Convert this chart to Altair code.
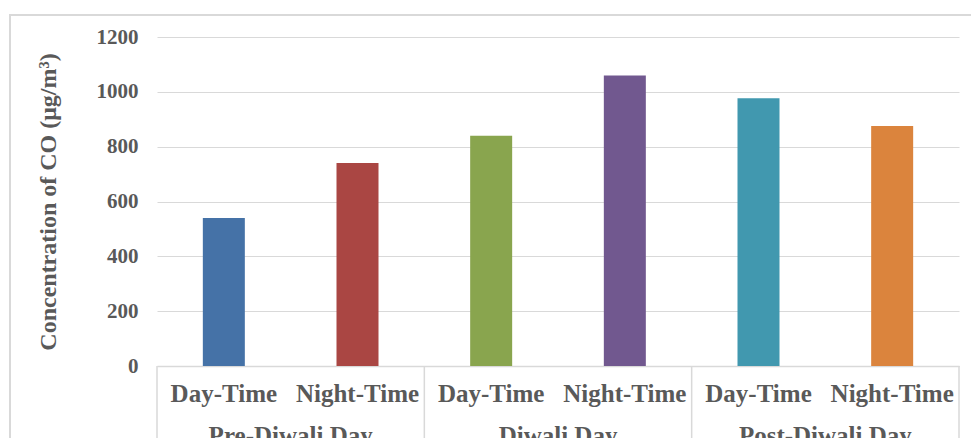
import altair as alt
import pandas as pd

periods = ["Pre-Diwali Day", "Diwali Day", "Post-Diwali Day"]
times = ["Day-Time", "Night-Time"]
values = [540, 740, 840, 1060, 977, 875]
colors = ["#4572A7", "#AA4643", "#89A54E", "#71588F", "#4198AF", "#DB843D"]
y_ticks = [0, 200, 400, 600, 800, 1000, 1200]

FONT = "Liberation Serif"
GRAY = "#595959"
LINE = "#d9d9d9"

rows = []
for i, v in enumerate(values):
    rows.append({
        "pos": i + 0.5,
        "period": periods[i // 2],
        "time": times[i % 2],
        "value": v,
        "key": f"{i}",
    })
df = pd.DataFrame(rows)

grp = pd.DataFrame({"pos": [2 * j + 1 for j in range(len(periods))], "period": periods})
seps = pd.DataFrame({"pos": [0, 2, 4, 6]})

xscale = alt.Scale(domain=[0, 6], nice=False, zero=False, padding=0)
yscale = alt.Scale(domain=[0, 1200], nice=False)

W, H = 802, 329

border = alt.Chart(pd.DataFrame({"a": [0]})).mark_rect(
    fillOpacity=0, stroke=LINE, strokeWidth=2
).encode(
    x=alt.value(-147), x2=alt.value(W + 60),
    y=alt.value(-22), y2=alt.value(H + 150),
)

bars = alt.Chart(df).mark_bar(size=42).encode(
    x=alt.X("pos:Q", scale=xscale,
            axis=alt.Axis(labels=False, ticks=False, grid=False, domain=True,
                          domainColor=LINE, domainWidth=1.5, title=None)),
    y=alt.Y("value:Q", scale=yscale,
            axis=alt.Axis(values=y_ticks, format="d", grid=True, gridColor=LINE, gridWidth=1.2,
                          domain=False, ticks=False, labelPadding=19,
                          labelFont=FONT, labelFontSize=21, labelFontWeight="bold",
                          labelColor=GRAY,
                          title="Concentration of CO (μg/m³)", titleFont=FONT,
                          titleFontSize=24, titleFontWeight="bold", titleColor=GRAY,
                          titlePadding=36)),
    color=alt.Color("key:N", scale=alt.Scale(domain=[str(i) for i in range(6)], range=colors),
                    legend=None),
)

sep_rules = alt.Chart(seps).mark_rule(color=LINE, strokeWidth=1.5).encode(
    x=alt.X("pos:Q", scale=xscale),
    y=alt.value(H), y2=alt.value(H + 120),
)

sub_labels = alt.Chart(df).mark_text(
    font=FONT, fontSize=25, fontWeight="bold", color=GRAY, baseline="alphabetic"
).encode(
    x=alt.X("pos:Q", scale=xscale),
    y=alt.value(H + 36),
    text="time:N",
)

grp_labels = alt.Chart(grp).mark_text(
    font=FONT, fontSize=25, fontWeight="bold", color=GRAY, baseline="alphabetic"
).encode(
    x=alt.X("pos:Q", scale=xscale),
    y=alt.value(H + 78),
    text="period:N",
)

chart = alt.layer(border, bars, sep_rules, sub_labels, grp_labels).properties(
    width=W, height=H,
    autosize=alt.AutoSizeParams(type="none"),
    padding={"left": 149, "top": 29, "right": 12, "bottom": 72},
).configure_view(stroke=None)

chart.save("out.html", embed_options={"renderer": "svg", "actions": False})
